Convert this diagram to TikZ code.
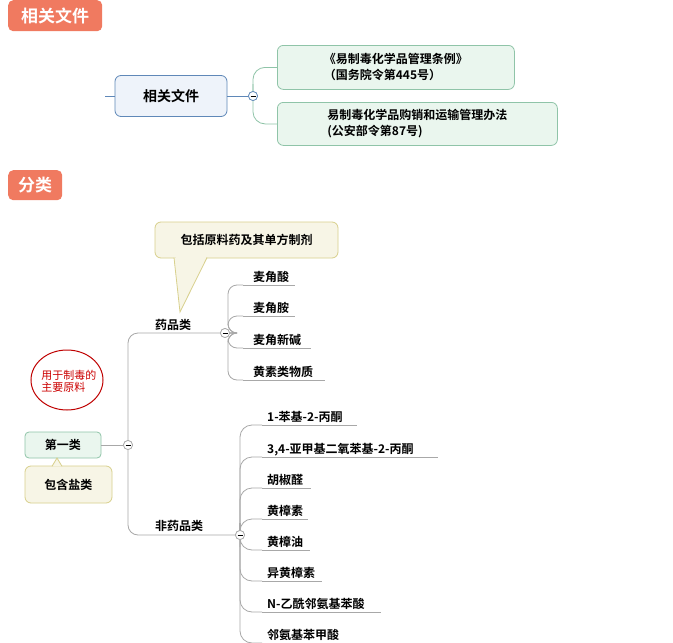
\documentclass[tikz,border=0pt]{standalone}
\usetikzlibrary{shapes.geometric}
\usepackage{fontspec}
\setmainfont{Noto Sans CJK SC}[BoldFont={Noto Sans CJK SC Bold}]
\newfontfamily\cjkb{Noto Sans CJK SC Bold}
\begin{document}
\begin{tikzpicture}[x=1pt,y=-1pt,
 tag/.style={fill=tagred,rounded corners=5,text=white,font=\cjkb\fontsize{17}{17}\selectfont,inner sep=4pt,anchor=north west},
 br/.style={draw=treegray,line width=0.8pt,rounded corners=10},
 col/.style={circle,draw=treegray,fill=white,inner sep=0pt,minimum size=9pt,line width=0.7pt},
 lbl/.style={font=\cjkb\fontsize{12}{12}\selectfont,anchor=base west,inner sep=0pt},
 ul/.style={draw=treegray,line width=0.8pt},
 docbox/.style={draw=docgreen,fill=docfill,rounded corners=6,line width=0.8pt,align=left,font=\cjkb\fontsize{12}{16}\selectfont,anchor=north west,inner xsep=22pt,inner ysep=5pt}]
\definecolor{tagred}{HTML}{F07A60}
\definecolor{treegray}{HTML}{A8A8A8}
\definecolor{blueb}{HTML}{5F88B8}
\definecolor{bluef}{HTML}{EEF3FA}
\definecolor{docgreen}{HTML}{8FC4A8}
\definecolor{docfill}{HTML}{EAF6EE}
\definecolor{notef}{HTML}{F7F5E6}
\definecolor{noteb}{HTML}{D8D08C}
\useasboundingbox[fill=white] (0,0) rectangle (673,643);
% tags
\node[tag,minimum width=94pt,minimum height=31pt] (t1) at (8,0) {相关文件};
\node[tag,minimum width=54pt,minimum height=30pt] (t2) at (8,170) {分类};
% top map
\coordinate (lin) at (105,96);
\node[draw=blueb,fill=bluef,rounded corners=6,line width=0.8pt,minimum width=112pt,minimum height=41pt,font=\cjkb\fontsize{14}{14}\selectfont] (rel) at (171,96) {相关文件};
\draw[blueb,line width=0.8pt] (lin) -- (rel.west);
\node[docbox,minimum width=237pt,minimum height=44pt] (d1) at (277,45) {《易制毒化学品管理条例》\\（国务院令第445号）};
\node[docbox,minimum width=280pt,minimum height=43pt,inner xsep=18pt] (d2) at (277,102) {易制毒化学品购销和运输管理办法\\(公安部令第87号)};
\node[col,draw=blueb] (c0) at (253,96) {};
\draw[docgreen,line width=0.8pt,rounded corners=12] (c0) -- (253,96) |- (d1.west);
\draw[docgreen,line width=0.8pt,rounded corners=12] (c0) -- (253,96) |- (d2.west);
\draw[blueb,line width=0.8pt] (rel.east) -- (c0);
\node[col,draw=blueb] at (253,96) {};
\draw[line width=0.9pt] (250.5,96) -- (255.5,96);
% callout
\node[draw=noteb,fill=notef,rounded corners=6,line width=0.8pt,minimum width=183pt,minimum height=36pt,font=\cjkb\fontsize{12}{12}\selectfont] (note) at (246.5,240) {包括原料药及其单方制剂};
\coordinate (tip) at (180,312);
\draw[noteb,fill=notef,line width=0.8pt] (174,257.6) -- (tip) -- (207,257.6);
\fill[notef] (175.5,256) rectangle (205.5,258.2);
% root
\node[draw=docgreen,fill=docfill,rounded corners=4,line width=0.8pt,minimum width=76pt,minimum height=26pt,font=\cjkb\fontsize{12}{12}\selectfont] (first) at (63,445) {第一类};
\node[draw=noteb,fill=notef,rounded corners=6,line width=0.8pt,minimum width=87pt,minimum height=37pt,font=\cjkb\fontsize{12}{12}\selectfont] (salt) at (68.5,484.5) {包含盐类};
\draw[noteb,fill=notef,line width=0.8pt] (52,466.3) -- (57,458) -- (62,466.3);
\node[draw=red!75!black,line width=1pt,ellipse,minimum width=72pt,minimum height=60pt,inner sep=0pt] (oval) at (67,380) {};
\node[text=red!80!black,align=left,font=\fontsize{11}{12}\selectfont] (ovt) at (69,381) {用于制毒的\\主要原料};
\node[col] (cr) at (128,445) {};
\draw[treegray,line width=0.8pt] (first.east) -- (cr);
% level 1
\node[lbl] (yp) at (155,329) {药品类};
\node[lbl] (fyp) at (155,530) {非药品类};
\node[col] (c1) at (225,333) {};
\node[col] (c2) at (240,535) {};
\draw[br] (cr) |- (c1);
\draw[br] (cr) |- (c2);
\node[col] at (128,445) {};\draw[line width=0.8pt] (125.5,445)--(130.5,445);
% children of 药品类
\foreach \t/\y/\e [count=\i] in {麦角酸/285/295,麦角胺/316/295,麦角新碱/348/311,黄素类物质/380/325}{
  \node[lbl] (a\i) at (253,\y-4) {\t};
  \coordinate (as\i) at (243,\y);
  \draw[br,rounded corners=9] (c1) -- (228,333) |- (as\i);
  \draw[ul] (as\i) -- (\e,\y);
}
\node[col] at (225,333) {};\draw[line width=0.8pt] (222.5,333)--(227.5,333);
% children of 非药品类
\foreach \t/\y/\e [count=\i] in {1-苯基-2-丙酮/425/357,{3,4-亚甲基二氧苯基-2-丙酮}/457/438,胡椒醛/488/311,黄樟素/519/308,黄樟油/550/310,异黄樟素/581/322,N-乙酰邻氨基苯酸/612/381,邻氨基苯甲酸/643/350}{
  \node[lbl] (b\i) at (267,\y-4) {\t};
  \coordinate (bs\i) at (262,\y);
  \draw[br,rounded corners=12] (c2) -- (240,535) |- (bs\i);
  \draw[ul] (bs\i) -- (\e,\y);
}
\node[col] at (240,535) {};\draw[line width=0.8pt] (237.5,535)--(242.5,535);
\end{tikzpicture}
\end{document}
